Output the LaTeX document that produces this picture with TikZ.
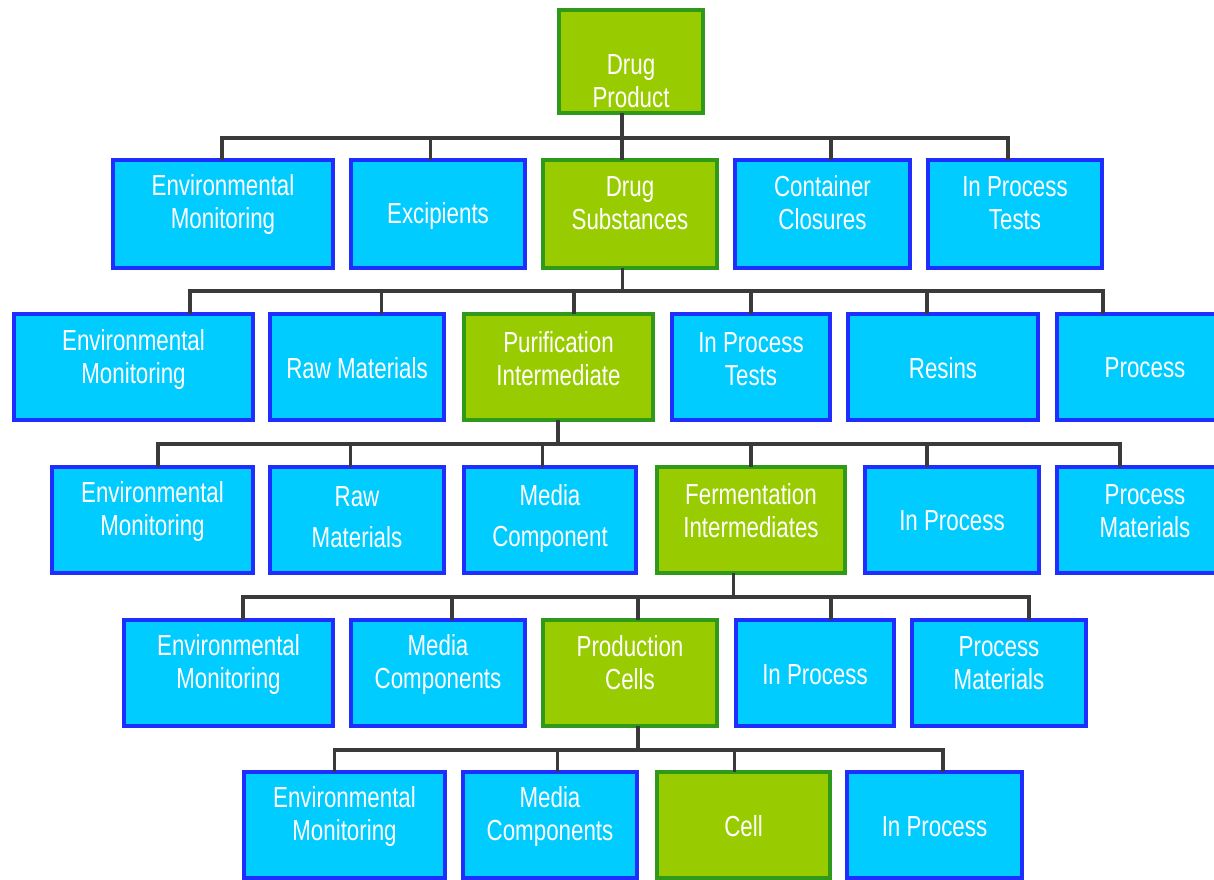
\documentclass[tikz,border=0pt]{standalone}
\usepackage{fontspec}
\newfontfamily\boxfont{Liberation Sans}[FakeStretch=0.77]
\definecolor{bfill}{HTML}{00CCFF}
\definecolor{bline}{HTML}{1E2EFF}
\definecolor{gfill}{HTML}{99CC00}
\definecolor{gline}{HTML}{2F9A1A}
\definecolor{cline}{HTML}{3A3A3A}
\tikzset{
  boxbase/.style={rectangle, line width=4pt, inner sep=2pt},
  bl/.style={boxbase, draw=bline, fill=bfill},
  gr/.style={boxbase, draw=gline, fill=gfill},
  lbl/.style={align=center, text=white, inner sep=0pt,
    font=\boxfont\fontsize{29}{33}\selectfont},
  lab/.style 2 args={label={[lbl,yshift=#1]center:{#2}}},
  conn/.style={draw=cline, line width=3.5pt, line cap=rect, line join=miter},
}
\begin{document}
\begin{tikzpicture}[x=1pt,y=-1pt]
\useasboundingbox (0,0) rectangle (1214,879);
\clip (0,0) rectangle (1214,879);
% row 0
\node[gr, minimum width=144pt, minimum height=103pt, lab={-20pt}{Drug\\Product}] (dp) at (631,61.5) {};
% row 1
\node[bl, minimum width=220pt, minimum height=108pt, lab={10pt}{Environmental\\Monitoring}] (r1a) at (223,214) {};
\node[bl, minimum width=174pt, minimum height=108pt, lab={-2pt}{Excipients}] (r1b) at (438,214) {};
\node[gr, minimum width=174pt, minimum height=108pt, lab={11pt}{Drug\\Substances}] (r1c) at (630,214) {};
\node[bl, minimum width=175pt, minimum height=108pt, lab={11pt}{Container\\Closures}] (r1d) at (822.5,214) {};
\node[bl, minimum width=174pt, minimum height=108pt, lab={11pt}{In Process\\Tests}] (r1e) at (1015,214) {};
% row 2
\node[bl, minimum width=239pt, minimum height=106pt, lab={8pt}{Environmental\\Monitoring}] (r2a) at (133.5,367) {};
\node[bl, minimum width=174pt, minimum height=106pt, lab={-1pt}{Raw Materials}] (r2b) at (357,367) {};
\node[gr, minimum width=189pt, minimum height=106pt, lab={8pt}{Purification\\Intermediate}] (r2c) at (558.5,367) {};
\node[bl, minimum width=158pt, minimum height=106pt, lab={8pt}{In Process\\Tests}] (r2d) at (751,367) {};
\node[bl, minimum width=190pt, minimum height=106pt, lab={-1pt}{Resins}] (r2e) at (943,367) {};
\node[bl, minimum width=176pt, minimum height=106pt, lab={-1pt}{Process}] (r2f) at (1145,367) {};
% row 3
\node[bl, minimum width=201pt, minimum height=106pt, lab={9pt}{Environmental\\Monitoring}] (r3a) at (152.5,520) {};
\node[bl, minimum width=174pt, minimum height=106pt, lab={3pt}{Raw\\[8pt]Materials}] (r3b) at (357,520) {};
\node[bl, minimum width=172pt, minimum height=106pt, lab={2pt}{Media\\[8pt]Component}] (r3c) at (550,520) {};
\node[gr, minimum width=188pt, minimum height=106pt, lab={9pt}{Fermentation\\Intermediates}] (r3d) at (751,520) {};
\node[bl, minimum width=174pt, minimum height=106pt, lab={-1pt}{In Process}] (r3e) at (952,520) {};
\node[bl, minimum width=176pt, minimum height=106pt, lab={9pt}{Process\\Materials}] (r3f) at (1145,520) {};
% row 4
\node[bl, minimum width=209pt, minimum height=106pt, lab={9pt}{Environmental\\Monitoring}] (r4a) at (228.5,673) {};
\node[bl, minimum width=174pt, minimum height=106pt, lab={9pt}{Media\\Components}] (r4b) at (438,673) {};
\node[gr, minimum width=174pt, minimum height=106pt, lab={10pt}{Production\\Cells}] (r4c) at (630,673) {};
\node[bl, minimum width=158pt, minimum height=106pt, lab={-2pt}{In Process}] (r4d) at (815,673) {};
\node[bl, minimum width=174pt, minimum height=106pt, lab={10pt}{Process\\Materials}] (r4e) at (999,673) {};
% row 5
\node[bl, minimum width=201pt, minimum height=106pt, lab={9pt}{Environmental\\Monitoring}] (r5a) at (344.5,825) {};
\node[bl, minimum width=174pt, minimum height=106pt, lab={9pt}{Media\\Components}] (r5b) at (550,825) {};
\node[gr, minimum width=173pt, minimum height=106pt, lab={-1pt}{Cell}] (r5c) at (743.5,825) {};
\node[bl, minimum width=175pt, minimum height=106pt, lab={-2pt}{In Process}] (r5d) at (934.5,825) {};
% bars
\coordinate (b1) at (0,138);
\coordinate (b2) at (0,291);
\coordinate (b3) at (0,444);
\coordinate (b4) at (0,597);
\coordinate (b5) at (0,750);
% connectors row 0 -> 1
\foreach \c/\d in {r1a/-1, r1b/-7.5, r1c/-8, r1d/8.5, r1e/-7}
  \draw[conn] ([xshift=-9pt]dp.south) -- ([xshift=-9pt]dp.south |- b1) -| ([xshift=\d pt]\c.north);
% row 1 -> 2
\foreach \c/\d in {r2a/56.5, r2b/24.5, r2c/15.5, r2d/0, r2e/-16, r2f/-42}
  \draw[conn] ([xshift=-7.5pt]r1c.south) -- ([xshift=-7.5pt]r1c.south |- b2) -| ([xshift=\d pt]\c.north);
% row 2 -> 3
\foreach \c/\d in {r3a/5.5, r3b/-6.5, r3c/-7.5, r3d/0, r3e/-25, r3f/-25}
  \draw[conn] ([xshift=-0.5pt]r2c.south) -- ([xshift=-0.5pt]r2c.south |- b3) -| ([xshift=\d pt]\c.north);
% row 3 -> 4
\foreach \c/\d in {r4a/14.5, r4b/14, r4c/8, r4d/16, r4e/30}
  \draw[conn] ([xshift=-17.5pt]r3d.south) -- ([xshift=-17.5pt]r3d.south |- b4) -| ([xshift=\d pt]\c.north);
% row 4 -> 5
\foreach \c/\d in {r5a/-10, r5b/7.5, r5c/-9, r5d/8.5}
  \draw[conn] ([xshift=8pt]r4c.south) -- ([xshift=8pt]r4c.south |- b5) -| ([xshift=\d pt]\c.north);
\end{tikzpicture}
\end{document}
